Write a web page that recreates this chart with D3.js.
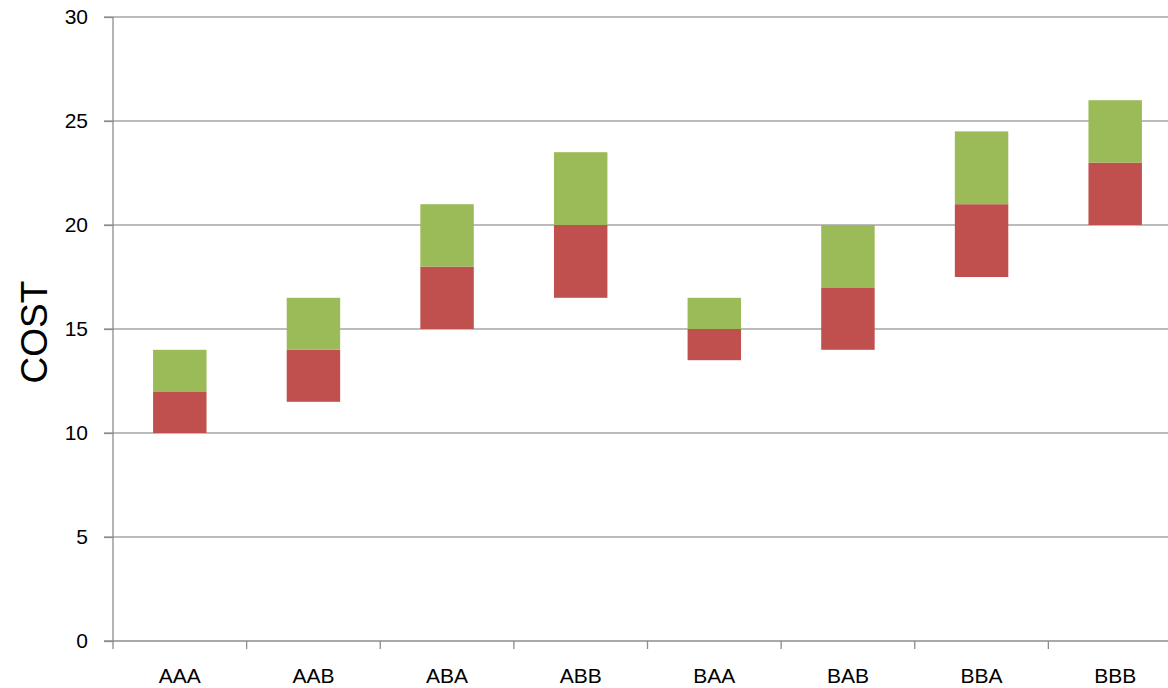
<!DOCTYPE html>
<html>
<head>
<meta charset="utf-8">
<script src="https://cdn.jsdelivr.net/npm/d3@7"></script>
<style>
  html, body { margin: 0; padding: 0; background: #fff; overflow: hidden; }
  svg { display: block; font-family: "Liberation Sans", Arial, sans-serif; }
</style>
</head>
<body>
<svg id="chart" width="1168" height="688"></svg>
<script>
// Scenario codes along the x axis
const categories = ["AAA", "AAB", "ABA", "ABB", "BAA", "BAB", "BBA", "BBB"];
// Floating range per scenario: low end, middle split, high end
const lowCost  = [10, 11.5, 15, 16.5, 13.5, 14, 17.5, 20];
const midCost  = [12, 14, 18, 20, 15, 17, 21, 23];
const highCost = [14, 16.5, 21, 23.5, 16.5, 20, 24.5, 26];
const yTicks = [0, 5, 10, 15, 20, 25, 30];
const yTitle = "COST";

const svg = d3.select("#chart");
const plotLeft = 113, plotRight = 1182, plotTop = 17, plotBottom = 641;

const x = d3.scaleBand().domain(categories).range([plotLeft, plotRight]);
const y = d3.scaleLinear().domain([0, 30]).range([plotBottom, plotTop]);

// Horizontal gridlines
svg.append("g")
  .selectAll("line")
  .data(yTicks.filter(t => t !== 0))
  .join("line")
  .attr("x1", plotLeft - 9).attr("x2", plotRight)
  .attr("y1", d => y(d)).attr("y2", d => y(d))
  .attr("stroke", "#a6a6a6").attr("stroke-width", 1.3);

// Bars: lower segment in red, upper segment in green
const barW = x.bandwidth() * 0.4;
const bars = svg.append("g");
categories.forEach((c, i) => {
  const bx = x(c) + (x.bandwidth() - barW) / 2;
  bars.append("rect")
    .attr("x", bx).attr("width", barW)
    .attr("y", y(midCost[i])).attr("height", y(lowCost[i]) - y(midCost[i]))
    .attr("fill", "#c0504d");
  bars.append("rect")
    .attr("x", bx).attr("width", barW)
    .attr("y", y(highCost[i])).attr("height", y(midCost[i]) - y(highCost[i]))
    .attr("fill", "#9bbb59");
});

// Y axis
const yAxis = svg.append("g")
  .attr("transform", `translate(${plotLeft},0)`)
  .call(d3.axisLeft(y).tickValues(yTicks).tickSize(9).tickPadding(16));
yAxis.select(".domain").attr("stroke", "#8c8c8c").attr("stroke-width", 1.3)
  .attr("d", `M0,${plotTop}V${plotBottom}`);
yAxis.selectAll(".tick line").attr("stroke", "#8c8c8c").attr("stroke-width", 1.3);
yAxis.selectAll(".tick text")
  .attr("font-size", 21).attr("fill", "#000")
  .attr("font-family", "Liberation Sans, Arial, sans-serif")
  .attr("dy", "0.3em");

// X axis with ticks at band boundaries
const xAxisG = svg.append("g").attr("transform", `translate(0,${plotBottom})`);
xAxisG.append("line")
  .attr("x1", plotLeft - 9).attr("x2", plotRight)
  .attr("stroke", "#8c8c8c").attr("stroke-width", 1.3);
xAxisG.selectAll("line.tk")
  .data(categories.map(c => x(c)).concat([plotRight]))
  .join("line").attr("class", "tk")
  .attr("x1", d => d).attr("x2", d => d)
  .attr("y1", 0).attr("y2", 8)
  .attr("stroke", "#8c8c8c").attr("stroke-width", 1.3);
xAxisG.selectAll("text")
  .data(categories)
  .join("text")
  .attr("x", d => x(d) + x.bandwidth() / 2)
  .attr("y", 42)
  .attr("text-anchor", "middle")
  .attr("font-size", 21)
  .attr("fill", "#000")
  .text(d => d);

// Y axis title
svg.append("text")
  .attr("transform", `translate(47,332) rotate(-90)`)
  .attr("text-anchor", "middle")
  .attr("font-size", 37)
  .attr("fill", "#000")
  .text(yTitle);
</script>
</body>
</html>
